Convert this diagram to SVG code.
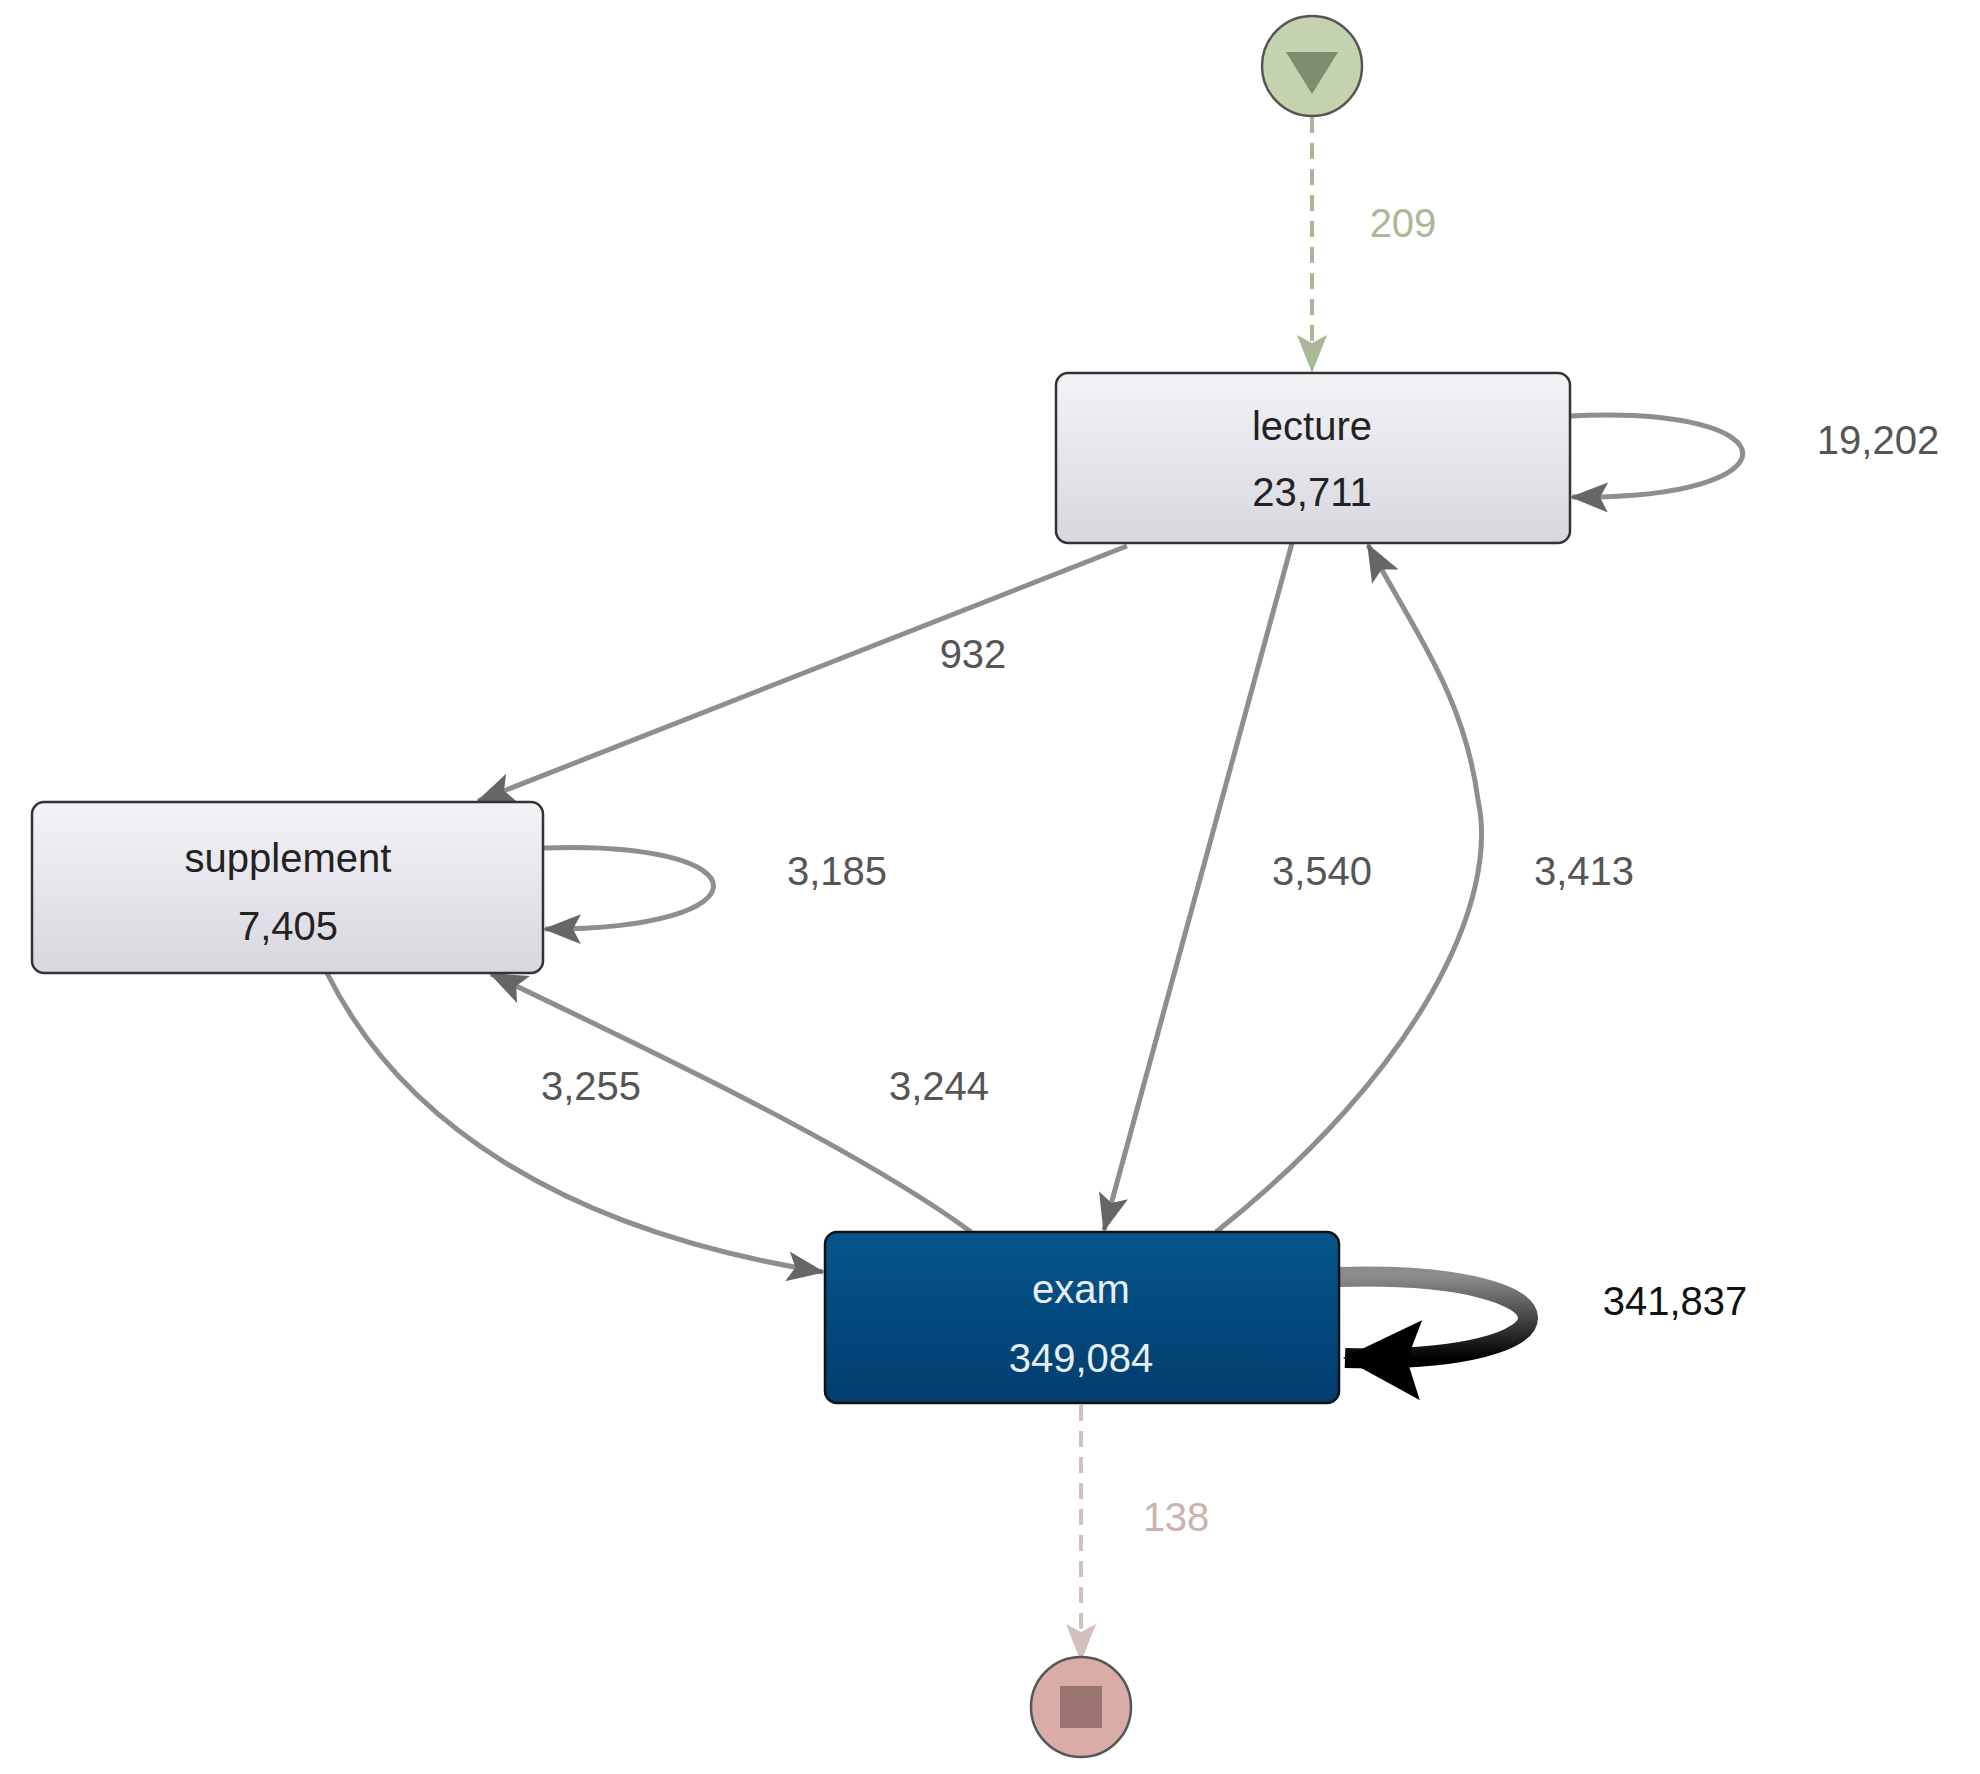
<svg xmlns="http://www.w3.org/2000/svg" width="1980" height="1774" viewBox="0 0 1980 1774">
<defs>
<linearGradient id="gbox" x1="0" y1="0" x2="0" y2="1"><stop offset="0" stop-color="#f3f2f7"/><stop offset="1" stop-color="#d8d7de"/></linearGradient>
<linearGradient id="gexam" x1="0" y1="0" x2="0" y2="1"><stop offset="0" stop-color="#05568c"/><stop offset="1" stop-color="#023d6e"/></linearGradient>
<linearGradient id="gself" x1="0" y1="0" x2="0" y2="1"><stop offset="0" stop-color="#8c8c8c"/><stop offset="1" stop-color="#000"/></linearGradient>
<marker id="ar" markerUnits="userSpaceOnUse" markerWidth="40" markerHeight="30" refX="36" refY="15" orient="auto"><path d="M0,0 L38,15 L0,30 L8,15 Z" fill="#666"/></marker>
<marker id="arbig" markerUnits="userSpaceOnUse" markerWidth="80" markerHeight="80" refX="76" refY="40" orient="auto"><path d="M0,0 L78,40 L0,80 L14,40 Z" fill="#000"/></marker>
<marker id="arg" markerUnits="userSpaceOnUse" markerWidth="40" markerHeight="30" refX="36" refY="15" orient="auto"><path d="M0,0 L38,15 L0,30 L8,15 Z" fill="#a9b896"/></marker>
<marker id="arr" markerUnits="userSpaceOnUse" markerWidth="40" markerHeight="30" refX="36" refY="15" orient="auto"><path d="M0,0 L38,15 L0,30 L8,15 Z" fill="#d3c0bc"/></marker>
</defs>
<style>
.box{fill:url(#gbox);stroke:#333;stroke-width:2.5}
.t{font-family:"Liberation Sans",Arial,sans-serif;font-size:40px;text-anchor:middle;fill:#222}
.lbl{font-family:"Liberation Sans",Arial,sans-serif;font-size:40px;text-anchor:middle;fill:#555}
.e{fill:none;stroke:#8e8e8e;stroke-width:5;marker-end:url(#ar)}
</style>
<rect width="1980" height="1774" fill="#fff"/>
<g id="connectors">
<line x1="1312" y1="117" x2="1312" y2="371" stroke="#a9b896" stroke-width="4" stroke-dasharray="16,10" marker-end="url(#arg)"/>
<path class="e" d="M1570,416 C1800,405 1800,500 1572,497"/>
<path class="e" d="M1127,546 L478,801"/>
<path class="e" d="M1292,543 L1104,1230"/>
<path class="e" d="M1216,1232 C1420,1070 1500,900 1478,800 C1465,700 1420,640 1368,545"/>
<path class="e" d="M543,848 C770,840 770,930 545,929"/>
<path class="e" d="M327,973 C400,1120 560,1230 823,1272"/>
<path class="e" d="M971,1232 C860,1150 650,1050 491,974"/>
<path d="M1339,1277 C1590,1270 1590,1365 1345,1358" fill="none" stroke="url(#gself)" stroke-width="20" marker-end="url(#arbig)"/>
<line x1="1081" y1="1405" x2="1081" y2="1660" stroke="#d3c0bc" stroke-width="4" stroke-dasharray="16,10" marker-end="url(#arr)"/>
<text class="lbl" x="1403" y="237" style="fill:#a9b896">209</text>
<text class="lbl" x="1878" y="454">19,202</text>
<text class="lbl" x="973" y="668">932</text>
<text class="lbl" x="837" y="885">3,185</text>
<text class="lbl" x="1322" y="885">3,540</text>
<text class="lbl" x="1584" y="885">3,413</text>
<text class="lbl" x="591" y="1100">3,255</text>
<text class="lbl" x="939" y="1100">3,244</text>
<text class="lbl" x="1675" y="1315" style="fill:#111">341,837</text>
<text class="lbl" x="1176" y="1531" style="fill:#cbb2ad">138</text>
</g>
<g id="start"><circle cx="1312" cy="66" r="50" fill="#c5d2b0" stroke="#555" stroke-width="2.5"/><path d="M1286,52 L1338,52 L1312,94 Z" fill="#7f8c6e"/></g>
<g id="lecture"><rect class="box" x="1056" y="373" width="514" height="170" rx="12"/><text class="t" x="1312" y="440">lecture</text><text class="t" x="1312" y="506">23,711</text></g>
<g id="supplement"><rect class="box" x="32" y="802" width="511" height="171" rx="12"/><text class="t" x="288" y="872">supplement</text><text class="t" x="288" y="940">7,405</text></g>
<g id="exam"><rect x="825" y="1232" width="514" height="171" rx="12" fill="url(#gexam)" stroke="#111" stroke-width="2.5"/><text class="t" x="1081" y="1303" style="fill:#e8eef5">exam</text><text class="t" x="1081" y="1372" style="fill:#e8eef5">349,084</text></g>
<g id="end"><circle cx="1081" cy="1707" r="50" fill="#d9aca8" stroke="#555" stroke-width="2.5"/><rect x="1060" y="1686" width="42" height="42" fill="#9a7470"/></g>
</svg>
